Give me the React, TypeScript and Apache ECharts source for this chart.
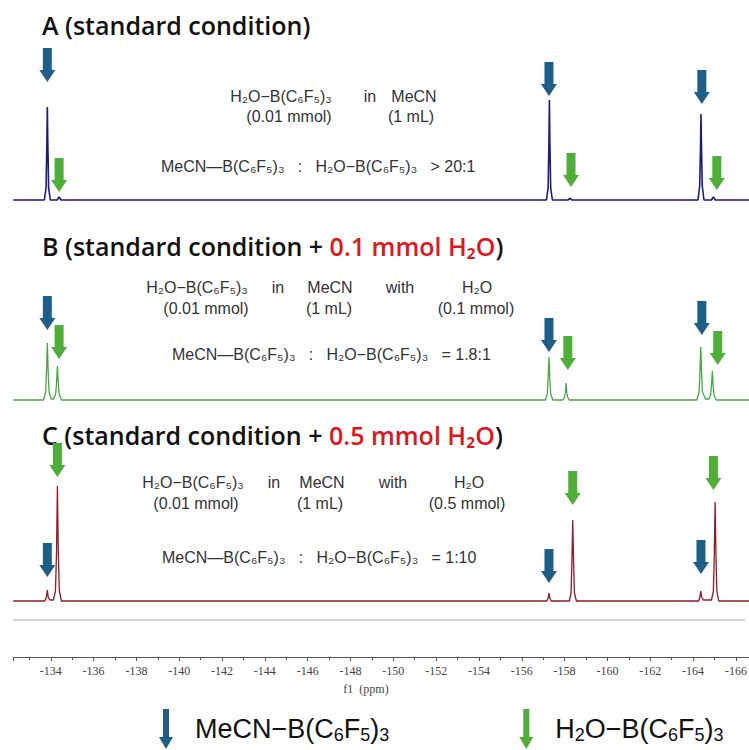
import React, { useEffect, useRef } from 'react';
import * as echarts from 'echarts';

// ---------- data ----------
// x: chemical shift (ppm), y: intensity (arbitrary units)
const spectrumA: number[][] = [
  [-132.25, 0], [-133.70, 0], [-133.78, 12], [-133.82, 60], [-133.84, 93], [-133.86, 60], [-133.90, 12], [-133.98, 0],
  [-134.30, 0], [-134.39, 3], [-134.48, 0],
  [-157.15, 0], [-157.23, 12], [-157.27, 60], [-157.29, 100], [-157.31, 60], [-157.35, 12], [-157.43, 0],
  [-158.15, 0], [-158.25, 1.5], [-158.35, 0],
  [-164.23, 0], [-164.31, 14], [-164.35, 55], [-164.37, 86], [-164.39, 55], [-164.43, 14], [-164.51, 0],
  [-164.86, 0], [-164.95, 3], [-165.04, 0],
  [-166.90, 0],
];
const spectrumB: number[][] = [
  [-132.25, 0], [-133.66, 0], [-133.76, 8], [-133.80, 28], [-133.84, 57], [-133.88, 28], [-133.92, 8], [-134.02, 1],
  [-134.13, 1], [-134.23, 6], [-134.27, 17], [-134.31, 34], [-134.35, 17], [-134.39, 6], [-134.50, 0],
  [-157.10, 0], [-157.19, 6], [-157.23, 21], [-157.27, 43], [-157.31, 21], [-157.35, 6], [-157.45, 0],
  [-157.92, 0], [-158.00, 3], [-158.04, 8], [-158.07, 17], [-158.10, 8], [-158.14, 3], [-158.22, 0],
  [-164.18, 0], [-164.28, 8], [-164.32, 26], [-164.36, 53], [-164.40, 26], [-164.44, 8], [-164.58, 1],
  [-164.74, 1], [-164.82, 5], [-164.86, 14], [-164.90, 29], [-164.94, 14], [-164.98, 5], [-165.08, 0],
  [-166.90, 0],
];
const spectrumC: number[][] = [
  [-132.25, 0], [-133.72, 0], [-133.80, 4], [-133.84, 11], [-133.88, 4], [-133.96, 1],
  [-134.12, 1], [-134.22, 10], [-134.27, 50], [-134.31, 115], [-134.35, 50], [-134.40, 10], [-134.50, 0],
  [-157.17, 0], [-157.23, 3], [-157.27, 8], [-157.31, 3], [-157.37, 0],
  [-158.22, 0], [-158.30, 8], [-158.34, 38], [-158.38, 81], [-158.42, 38], [-158.46, 8], [-158.55, 0],
  [-164.26, 0], [-164.32, 4], [-164.36, 10], [-164.40, 4], [-164.48, 1],
  [-164.86, 1], [-164.95, 10], [-164.99, 45], [-165.03, 99], [-165.07, 45], [-165.11, 10], [-165.20, 0],
  [-166.90, 0],
];

// arrow markers: [ppm, level of arrow tip]
const mecnArrowsA: number[][] = [[-133.84, 118], [-157.27, 104], [-164.41, 96]];
const waterArrowsA: number[][] = [[-134.39, 8], [-158.30, 13], [-165.11, 10]];
const mecnArrowsB: number[][] = [[-133.84, 70], [-157.27, 48], [-164.41, 65]];
const waterArrowsB: number[][] = [[-134.39, 41], [-158.15, 30], [-165.15, 35]];
const mecnArrowsC: number[][] = [[-133.84, 24], [-157.27, 18], [-164.37, 27]];
const waterArrowsC: number[][] = [[-134.31, 124], [-158.38, 96], [-164.95, 111]];

const MECN = 'MeCN\u2212B(C\u2086F\u2085)\u2083';
const WATER = 'H\u2082O\u2212B(C\u2086F\u2085)\u2083';
const ADDUCT = 'H\u2082O\u2212B(C\u2086F\u2085)\u2083';
const RATIO_LEFT = 'MeCN\u2014B(C\u2086F\u2085)\u2083   :   H\u2082O\u2212B(C\u2086F\u2085)\u2083';
const ratios = ['> 20:1', '= 1.8:1', '= 1:10'];
const titles = ['A (standard condition)', 'B (standard condition + ', 'C (standard condition + '];
const waterAmounts = ['0.1 mmol', '0.5 mmol'];

const xMin = -168;
const xMax = -132.25;

// ---------- styles ----------
const BLUE_ARROW = '#1f5e86';
const GREEN_ARROW = '#4fae3a';
const LINE_COLORS = ['#1a1a80', '#48a648', '#8e1c24'];
const LINE_WIDTHS = [1.6, 1.3, 1.3];
const arrowPath = 'path://M3.5,0 L12.5,0 L12.5,22 L16,22 L8,34 L0,22 L3.5,22 Z';
const legendArrow = 'path://M4,0 L10,0 L10,28 L14,28 L7,40 L0,28 L4,28 Z';
const baselines = [200, 400, 601];
const GRID_H = 130;
const SANS = '"Liberation Sans", Arial, sans-serif';
const TITLE_FONT = '"Open Sans", "Noto Sans", sans-serif';

function annot(text: string, x: number, y: number, align = 'center') {
  return {
    type: 'text',
    x,
    y,
    silent: true,
    style: { text, fill: '#333', font: `16px ${SANS}`, align, verticalAlign: 'middle' },
  };
}

function title(idx: number, y: number) {
  const k = { fontSize: 25, fontWeight: 600, fontFamily: TITLE_FONT, fill: '#111' };
  const r = { fontSize: 25, fontWeight: 600, fontFamily: TITLE_FONT, fill: '#e0161c' };
  const text = idx === 0 ? `{k|${titles[0]}}` : `{k|${titles[idx]}}{r|${waterAmounts[idx - 1]} H\u2082O}{k|)}`;
  return {
    type: 'text',
    x: 42,
    y,
    silent: true,
    style: { text, rich: { k, r }, align: 'left', verticalAlign: 'middle' },
  };
}

function legendLabel(name: string) {
  if (name === MECN) return '{t|MeCN\u2212B(C}{s|6}{t|F}{s|5}{t|)}{s|3}';
  return '{t|H}{s|2}{t|O\u2212B(C}{s|6}{t|F}{s|5}{t|)}{s|3}';
}

function buildOption() {
  const grids: any[] = baselines.map((b) => ({
    left: 13.3, width: 765.4, top: b - GRID_H, height: GRID_H, outerBoundsMode: 'none', containLabel: false,
  }));
  grids.push({ left: 13.3, width: 765.4, top: 600, height: 57, outerBoundsMode: 'none', containLabel: false });

  const hiddenX = (i: number) => ({
    type: 'value', gridIndex: i, min: xMin, max: xMax, inverse: true, show: false,
  });
  const xAxis: any[] = [0, 1, 2].map(hiddenX);
  xAxis.push({
    type: 'value',
    gridIndex: 3,
    min: xMin,
    max: xMax,
    inverse: true,
    interval: 2,
    name: 'f1  (ppm)',
    nameLocation: 'middle',
    nameGap: 26,
    nameTextStyle: { fontFamily: '"Liberation Serif", serif', fontSize: 12, color: '#444', padding: [0, 60, 0, 0] },
    axisLine: { show: true, lineStyle: { color: '#555', width: 1.2 } },
    axisTick: { show: true, length: 4, lineStyle: { color: '#555' } },
    minorTick: { show: true, splitNumber: 2, length: 3, lineStyle: { color: '#555' } },
    splitLine: { show: false },
    axisLabel: {
      fontFamily: '"Liberation Serif", serif',
      fontSize: 12,
      color: '#444',
      margin: 8,
      hideOverlap: false,
      showMinLabel: false,
      formatter: (v: number) => (Math.abs(v % 2) < 1e-9 && v > xMin ? String(v) : ''),
    },
  });
  const yAxis: any[] = [0, 1, 2].map((i) => ({ type: 'value', gridIndex: i, min: 0, max: GRID_H, show: false }));
  yAxis.push({ type: 'value', gridIndex: 3, min: 0, max: 1, show: false });

  const spectra = [spectrumA, spectrumB, spectrumC];
  const mecn = [mecnArrowsA, mecnArrowsB, mecnArrowsC];
  const water = [waterArrowsA, waterArrowsB, waterArrowsC];

  const series: any[] = [];
  spectra.forEach((d, i) => {
    series.push({
      type: 'line',
      name: 'spectrum ' + 'ABC'[i],
      xAxisIndex: i,
      yAxisIndex: i,
      data: d,
      showSymbol: false,
      clip: false,
      silent: true,
      lineStyle: { color: LINE_COLORS[i], width: LINE_WIDTHS[i] },
      itemStyle: { color: LINE_COLORS[i] },
    });
  });
  [0, 1, 2].forEach((i) => {
    series.push({
      type: 'scatter',
      name: MECN,
      xAxisIndex: i,
      yAxisIndex: i,
      data: mecn[i],
      symbol: arrowPath,
      symbolSize: [16, 34],
      symbolOffset: [0, '-50%'],
      clip: false,
      silent: true,
      itemStyle: { color: BLUE_ARROW, opacity: 1 },
      z: 5,
    });
    series.push({
      type: 'scatter',
      name: WATER,
      xAxisIndex: i,
      yAxisIndex: i,
      data: water[i],
      symbol: arrowPath,
      symbolSize: [16, 34],
      symbolOffset: [0, '-50%'],
      clip: false,
      silent: true,
      itemStyle: { color: GREEN_ARROW, opacity: 1 },
      z: 5,
    });
  });

  const graphic: any[] = [
    title(0, 25),
    title(1, 246),
    title(2, 435),
    // A
    annot(ADDUCT, 281, 96), annot('in', 370, 96), annot('MeCN', 414, 96),
    annot('(0.01 mmol)', 289, 116), annot('(1 mL)', 411, 116),
    annot(`${RATIO_LEFT}   ${ratios[0]}`, 161, 166, 'left'),
    // B
    annot(ADDUCT, 197, 287), annot('in', 278, 287), annot('MeCN', 330, 287), annot('with', 400, 287),
    annot('H\u2082O', 477, 287),
    annot('(0.01 mmol)', 206, 308), annot('(1 mL)', 329, 308), annot('(0.1 mmol)', 476, 308),
    annot(`${RATIO_LEFT}   ${ratios[1]}`, 172, 354, 'left'),
    // C
    annot(ADDUCT, 193, 482), annot('in', 274, 482), annot('MeCN', 322, 482), annot('with', 393, 482),
    annot('H\u2082O', 469, 482),
    annot('(0.01 mmol)', 196, 503), annot('(1 mL)', 320, 503), annot('(0.5 mmol)', 467, 503),
    annot(`${RATIO_LEFT}   ${ratios[2]}`, 162, 557, 'left'),
    {
      type: 'line',
      silent: true,
      shape: { x1: 13, y1: 620, x2: 745, y2: 620 },
      style: { stroke: '#d4d4d4', lineWidth: 2 },
    },
  ];

  return {
    animation: false,
    backgroundColor: '#ffffff',
    grid: grids,
    xAxis,
    yAxis,
    legend: {
      data: [MECN, WATER],
      left: 159,
      top: 709,
      padding: 0,
      icon: legendArrow,
      itemWidth: 14,
      itemHeight: 40,
      itemGap: 130,
      selectedMode: false,
      formatter: legendLabel,
      textStyle: {
        fontSize: 27,
        fontFamily: SANS,
        color: '#111',
        padding: [0, 0, 0, 17],
        rich: {
          t: { fontSize: 27, fontFamily: SANS, color: '#111', lineHeight: 30 },
          s: { fontSize: 18, fontFamily: SANS, color: '#111', lineHeight: 14, verticalAlign: 'bottom' },
        },
      },
    },
    graphic,
    series,
  };
}

export default function App() {
  const ref = useRef<HTMLDivElement>(null);
  useEffect(() => {
    if (!ref.current) return;
    const chart = echarts.init(ref.current, null, { renderer: 'svg' });
    chart.setOption(buildOption() as any);
    return () => chart.dispose();
  }, []);
  return (
    <div
      ref={ref}
      style={{ position: 'absolute', left: 0, top: 0, width: 749, height: 750, background: '#fff' }}
    />
  );
}
